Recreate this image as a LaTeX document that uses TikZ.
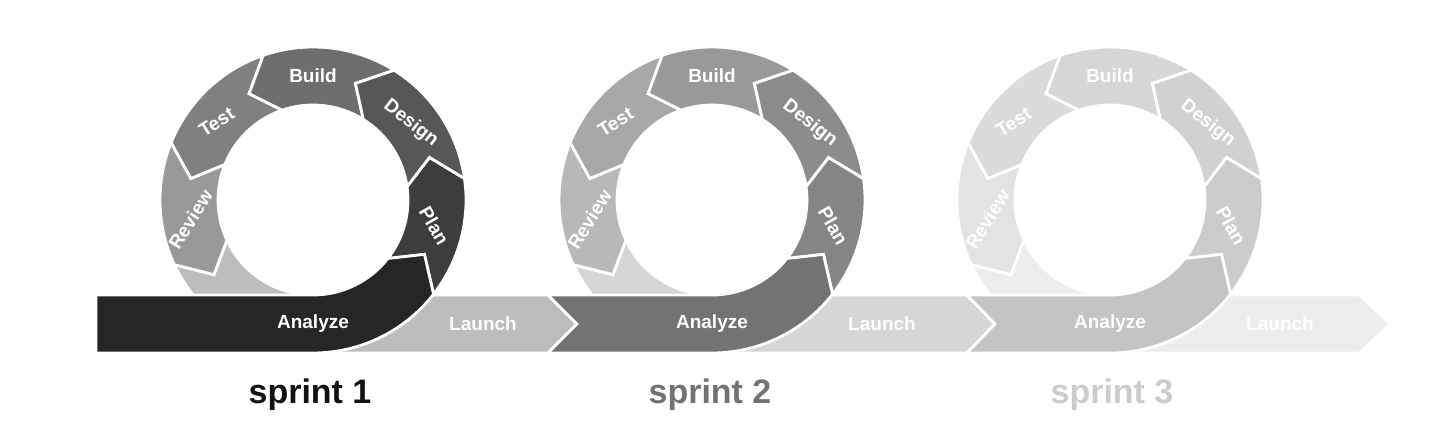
\documentclass[tikz,border=0pt]{standalone}
\usepackage{fontspec}
\setmainfont{Liberation Sans}
\begin{document}
\begin{tikzpicture}[x=0.5pt,y=0.5pt,
  seg/.style={draw=white,line width=1.4},
  lab/.style={text=white,inner sep=0pt,font=\fontsize{9.5}{10}\selectfont\bfseries},
  spr/.style={font=\fontsize{17}{19}\selectfont\bfseries}]
\useasboundingbox (0,0) rectangle (1440,446);
\def\R{153}\def\r{95}\def\M{124}\def\d{12}
\newcommand\ringseg[3]{% a1 a2 colour
  \fill[seg,fill=#3] (#1:\R) arc[start angle=#1,end angle=#2,radius=\R] -- ({#2+\d}:\M) -- (#2:\r)
    arc[start angle=#2,end angle=#1,radius=\r] -- ({#1+\d}:\M) -- cycle;}
% #1 cx, #2 bar left corner, #3 bar notch point, #4 launch corner, #5 launch tip, #6 id
\newcommand\drawsprint[6]{%
\begin{scope}[shift={(#1,246)}]
  \fill[seg,fill=cL] (205:\R) arc[start angle=205,end angle=270,radius=\R] -- ({#4-#1},-\R) -- ({#5-#1},-\M)
     -- ({#4-#1},-\r) -- (0,-\r) arc[start angle=270,end angle=205,radius=\r] -- ({205+\d}:\M) -- cycle;
  \ringseg{158}{205}{cR}
  \ringseg{109}{158}{cT}
  \ringseg{58}{109}{cB}
  \ringseg{8}{58}{cD}
  \ringseg{-38}{8}{cP}
  \fill[seg,fill=cA] ({#2-#1},-\R) -- (0,-\R) arc[start angle=270,end angle=322,radius=\R] -- ({322+\d}:\M) -- (322:\r)
     arc[start angle=322,end angle=270,radius=\r] -- ({#2-#1},-\r) -- ({#3-#1},-\M) -- cycle;
  \node[lab] (#6an) at (0,-\M) {Analyze};
  \node[lab] (#6la) at (170,-\M) {Launch};
  \node[lab,rotate=-60] (#6pl) at (-12:\M) {Plan};
  \node[lab,rotate=-38] (#6de) at (38:\M) {Design};
  \node[lab] (#6bu) at (90:\M) {Build};
  \node[lab,rotate=32] (#6te) at (141:\M) {Test};
  \node[lab,rotate=58] (#6re) at (189:\M) {Review};
\end{scope}}
\colorlet{cA}{black!85}\colorlet{cP}{black!76}\colorlet{cD}{black!66}\colorlet{cB}{black!57}
\colorlet{cT}{black!50}\colorlet{cR}{black!40}\colorlet{cL}{black!26}
\drawsprint{313}{96}{96}{548}{577}{a}
\colorlet{cA}{black!55}\colorlet{cP}{black!48}\colorlet{cD}{black!45}\colorlet{cB}{black!40}
\colorlet{cT}{black!34}\colorlet{cR}{black!28}\colorlet{cL}{black!16}
\drawsprint{712}{548}{577}{967}{995}{b}
\colorlet{cA}{black!23}\colorlet{cP}{black!20}\colorlet{cD}{black!18}\colorlet{cB}{black!16}
\colorlet{cT}{black!14}\colorlet{cR}{black!11}\colorlet{cL}{black!7}
\drawsprint{1110}{967}{995}{1360}{1390}{c}
\node[spr,text=black!93] (l1) at (310,51) {sprint 1};
\node[spr,text=black!55] (l2) at (710,51) {sprint 2};
\node[spr,text=black!20] (l3) at (1112,51) {sprint 3};
\end{tikzpicture}
\end{document}
